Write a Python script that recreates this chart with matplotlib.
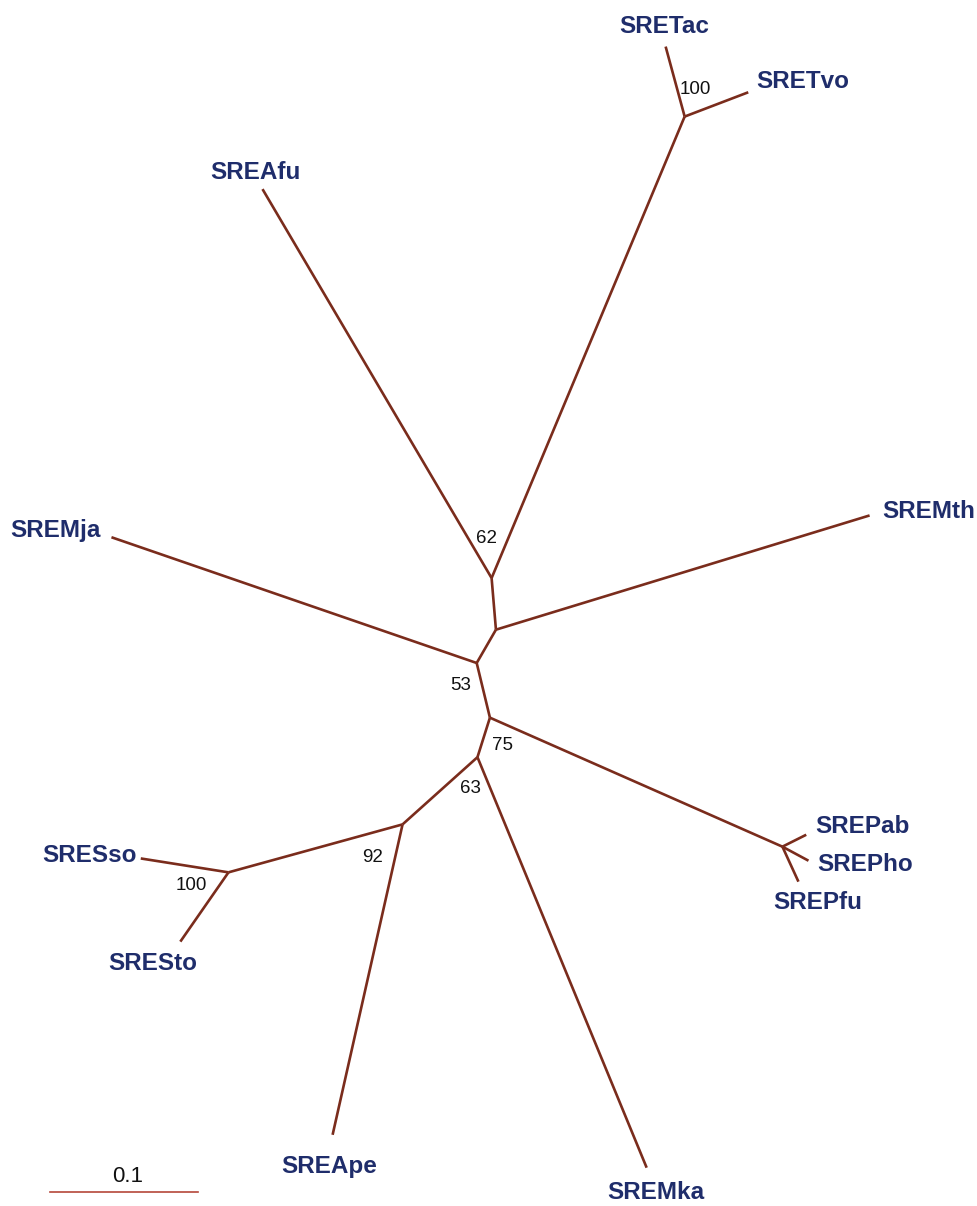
import numpy as np
import matplotlib.pyplot as plt

plt.rcParams["font.family"] = ["Liberation Sans", "DejaVu Sans"]

# branches of the unrooted tree: parent -> child, length (subst./site), drawing angle (deg)
parents = ['A', 'A', 'A', 'B', 'B', 'C', 'C', 'D', 'D', 'E',
           'E', 'F', 'F', 'F', 'G', 'G', 'H', 'H', 'I', 'I']
children = ['SREMja', 'B', 'E', 'SREMth', 'C', 'SREAfu', 'D', 'SRETac', 'SRETvo', 'F',
            'G', 'SREPab', 'SREPho', 'SREPfu', 'SREMka', 'H', 'SREApe', 'I', 'SRESso', 'SRESto']
lengths = [0.261, 0.026, 0.038, 0.264, 0.035, 0.305, 0.338, 0.049, 0.046, 0.216,
           0.028, 0.018, 0.020, 0.026, 0.300, 0.068, 0.215, 0.122, 0.060, 0.057]
angles = [161.0, 60.0, -76.4, 17.0, 94.8, 120.5, 67.3, 105.2, 20.9, -23.8,
          -107.5, 26.6, -28.3, -65.4, -67.6, -138.1, -102.7, -164.6, 171.0, -124.8]

# bootstrap support at internal nodes
support_nodes = ['D', 'C', 'A', 'E', 'G', 'H', 'I']
support_values = [100, 62, 53, 75, 63, 92, 100]
support_offsets = [(11, 27), (-5, 40), (-16, -22), (13, -28), (-7, -31), (-30, -33), (-37, -13)]

leaf_offsets = {
    'SRETac': (-1, 20), 'SRETvo': (55, 11), 'SREAfu': (-7, 17), 'SREMth': (59, 4),
    'SREMja': (-56, 7), 'SREPab': (56, 8), 'SREPho': (57, -4), 'SREPfu': (19, -21),
    'SRESso': (-51, 3), 'SRESto': (-28, -22), 'SREApe': (-3, -32), 'SREMka': (9, -25),
}

# place nodes by walking the branch list from the central node
pos = {'A': np.array([0.0, 0.0])}
for p, c, l, a in zip(parents, children, lengths, angles):
    t = np.radians(a)
    pos[c] = pos[p] + l * np.array([np.cos(t), np.sin(t)])

W, H = 977, 1206
u = 0.1 / 148  # tree units per pixel
cx, cy = 476.7, 663

fig = plt.figure(figsize=(W / 100, H / 100), dpi=100)
ax = fig.add_axes([0, 0, 1, 1])
ax.set_xlim(-cx * u, (W - cx) * u)
ax.set_ylim(-(H - cy) * u, cy * u)
ax.axis('off')

branch_color = '#7a2c1c'
for p, c in zip(parents, children):
    x0, y0 = pos[p]
    x1, y1 = pos[c]
    ax.plot([x0, x1], [y0, y1], color=branch_color, lw=1.9, solid_capstyle='butt')

for name, (dx, dy) in leaf_offsets.items():
    ax.annotate(name, pos[name], xytext=(dx, dy), textcoords='offset pixels',
                ha='center', va='center', fontsize=17.5, fontweight='bold', color='#1f2d6b')

for node, val, (dx, dy) in zip(support_nodes, support_values, support_offsets):
    ax.annotate(str(val), pos[node], xytext=(dx, dy), textcoords='offset pixels',
                ha='center', va='center', fontsize=13.5, color='#111111')

# scale bar
sx = (50 - cx) * u
sy = (cy - 1192) * u
ax.plot([sx, sx + 0.1], [sy, sy], color='#b5473a', lw=1.2)
ax.annotate('0.1', (sx + 0.05, sy), xytext=(4, 15), textcoords='offset pixels',
            ha='center', va='center', fontsize=16, color='#111111')

fig.savefig('out.png', dpi=100, facecolor='white')
